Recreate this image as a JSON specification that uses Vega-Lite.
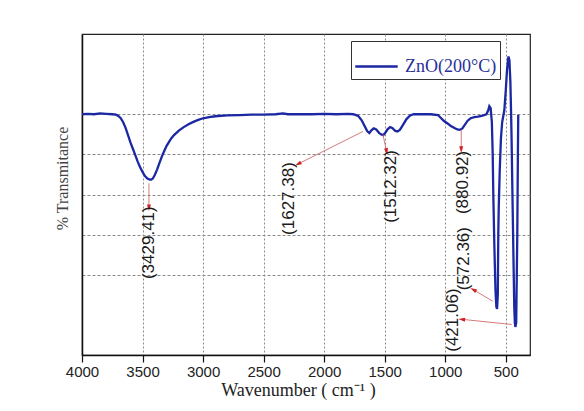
{
  "$schema": "https://vega.github.io/schema/vega-lite/v6.json",
  "width": 448,
  "height": 321,
  "autosize": "none",
  "padding": {"left": 82, "top": 34, "right": 54, "bottom": 56},
  "background": "white",
  "config": {
    "view": {"stroke": "#222", "strokeWidth": 1.2},
    "font": "Liberation Sans"
  },
  "datasets": {
    "spectrum": [
      {"wn": 4000, "t": 60.0}, {"wn": 3950, "t": 60.1}, {"wn": 3900, "t": 60.0}, {"wn": 3850, "t": 60.2},
      {"wn": 3800, "t": 60.1}, {"wn": 3750, "t": 60.0}, {"wn": 3720, "t": 59.9}, {"wn": 3700, "t": 59.6},
      {"wn": 3680, "t": 59.0}, {"wn": 3660, "t": 58.0}, {"wn": 3640, "t": 56.6}, {"wn": 3620, "t": 54.8},
      {"wn": 3600, "t": 53.0}, {"wn": 3580, "t": 51.4}, {"wn": 3560, "t": 49.8}, {"wn": 3540, "t": 48.2},
      {"wn": 3520, "t": 46.8}, {"wn": 3500, "t": 45.6}, {"wn": 3480, "t": 44.6}, {"wn": 3460, "t": 44.0},
      {"wn": 3440, "t": 43.7}, {"wn": 3429, "t": 43.7}, {"wn": 3415, "t": 44.0}, {"wn": 3400, "t": 44.8},
      {"wn": 3380, "t": 46.2}, {"wn": 3360, "t": 47.9}, {"wn": 3340, "t": 49.5}, {"wn": 3320, "t": 50.9},
      {"wn": 3300, "t": 52.2}, {"wn": 3280, "t": 53.2}, {"wn": 3260, "t": 54.1}, {"wn": 3240, "t": 54.8},
      {"wn": 3200, "t": 55.9}, {"wn": 3160, "t": 56.8}, {"wn": 3120, "t": 57.5}, {"wn": 3080, "t": 58.1},
      {"wn": 3040, "t": 58.6}, {"wn": 3000, "t": 59.0}, {"wn": 2950, "t": 59.3}, {"wn": 2900, "t": 59.5},
      {"wn": 2800, "t": 59.7}, {"wn": 2700, "t": 59.8}, {"wn": 2600, "t": 59.9}, {"wn": 2500, "t": 59.9},
      {"wn": 2400, "t": 60.0}, {"wn": 2340, "t": 60.2}, {"wn": 2300, "t": 60.0}, {"wn": 2200, "t": 60.0},
      {"wn": 2100, "t": 60.0}, {"wn": 2000, "t": 60.1}, {"wn": 1900, "t": 60.0}, {"wn": 1800, "t": 60.1},
      {"wn": 1760, "t": 60.0}, {"wn": 1720, "t": 59.6}, {"wn": 1690, "t": 58.5}, {"wn": 1665, "t": 57.0},
      {"wn": 1645, "t": 55.8}, {"wn": 1627, "t": 55.3}, {"wn": 1610, "t": 56.0}, {"wn": 1590, "t": 56.5},
      {"wn": 1570, "t": 56.2}, {"wn": 1545, "t": 55.3}, {"wn": 1525, "t": 54.9}, {"wn": 1512, "t": 54.8},
      {"wn": 1495, "t": 55.4}, {"wn": 1475, "t": 56.3}, {"wn": 1455, "t": 56.8}, {"wn": 1435, "t": 56.5},
      {"wn": 1415, "t": 55.9}, {"wn": 1395, "t": 55.7}, {"wn": 1375, "t": 56.1}, {"wn": 1350, "t": 57.3},
      {"wn": 1320, "t": 58.8}, {"wn": 1290, "t": 59.7}, {"wn": 1260, "t": 60.0}, {"wn": 1200, "t": 60.0},
      {"wn": 1120, "t": 60.0}, {"wn": 1060, "t": 59.8}, {"wn": 1040, "t": 59.2}, {"wn": 1010, "t": 58.3},
      {"wn": 980, "t": 57.7}, {"wn": 950, "t": 57.0}, {"wn": 920, "t": 56.5}, {"wn": 900, "t": 56.2},
      {"wn": 880, "t": 56.1}, {"wn": 860, "t": 56.4}, {"wn": 840, "t": 57.3}, {"wn": 815, "t": 58.4},
      {"wn": 790, "t": 59.0}, {"wn": 760, "t": 59.3}, {"wn": 730, "t": 59.4}, {"wn": 700, "t": 59.6},
      {"wn": 680, "t": 59.8}, {"wn": 660, "t": 60.0}, {"wn": 645, "t": 61.0}, {"wn": 636, "t": 62.0},
      {"wn": 625, "t": 61.5}, {"wn": 615, "t": 58.0}, {"wn": 608, "t": 50.0}, {"wn": 603, "t": 40.0},
      {"wn": 595, "t": 28.0}, {"wn": 585, "t": 16.0}, {"wn": 578, "t": 12.0}, {"wn": 572, "t": 11.5},
      {"wn": 566, "t": 15.0}, {"wn": 562, "t": 30.0}, {"wn": 558, "t": 37.0}, {"wn": 550, "t": 46.0},
      {"wn": 540, "t": 54.0}, {"wn": 530, "t": 58.0}, {"wn": 521, "t": 59.5}, {"wn": 512, "t": 61.0},
      {"wn": 500, "t": 66.0}, {"wn": 490, "t": 71.0}, {"wn": 478, "t": 74.4}, {"wn": 470, "t": 73.5},
      {"wn": 462, "t": 68.0}, {"wn": 456, "t": 60.0}, {"wn": 452, "t": 53.7}, {"wn": 445, "t": 40.0},
      {"wn": 437, "t": 25.0}, {"wn": 430, "t": 12.0}, {"wn": 425, "t": 8.0}, {"wn": 421, "t": 7.0},
      {"wn": 414, "t": 8.0}, {"wn": 405, "t": 30.0}, {"wn": 400, "t": 50.0}, {"wn": 397, "t": 59.9}
    ],
    "peaks": [
      {"id": "p3429", "label": "(3429.41)", "lx": 3447, "ly": 28.0, "ax": 3447, "ay": 42.8, "tx": 3447, "ty": 36.7},
      {"id": "p1627", "label": "(1627.38)", "lx": 2294, "ly": 39.0, "ax": 1680, "ay": 55.7, "tx": 2216, "ty": 47.6},
      {"id": "p1512", "label": "(1512.32)", "lx": 1450, "ly": 42.0, "ax": 1515, "ay": 55.0, "tx": 1484, "ty": 50.7},
      {"id": "p880", "label": "(880.92)", "lx": 850, "ly": 43.0, "ax": 868, "ay": 56.2, "tx": 868, "ty": 51.2},
      {"id": "p572", "label": "(572.36)", "lx": 848, "ly": 24.0, "ax": 608, "ay": 13.4, "tx": 769, "ty": 16.3},
      {"id": "p421", "label": "(421.06)", "lx": 940, "ly": 8.7, "ax": 451, "ay": 7.6, "tx": 864, "ty": 8.9}
    ]
  },
  "layer": [
    {
      "data": {"name": "spectrum"},
      "mark": {"type": "line", "strokeWidth": 2.3, "interpolate": "linear", "color": "#1b27a3"},
      "encoding": {
        "x": {
          "field": "wn", "type": "quantitative",
          "scale": {"domain": [300, 4000], "reverse": true, "nice": false, "zero": false},
          "axis": {
            "values": [500, 750, 1000, 1250, 1500, 1750, 2000, 2250, 2500, 2750, 3000, 3250, 3500, 3750, 4000],
            "format": "d",
            "labelExpr": "datum.value % 500 === 0 ? datum.label : ''",
            "grid": true, "gridDash": [2, 2], "gridColor": "#8a8a8a", "gridWidth": 1,
            "gridOpacity": {"condition": {"test": "datum.value % 500 === 0", "value": 1}, "value": 0},
            "tickSize": {"condition": {"test": "datum.value % 500 === 0", "value": 7}, "value": 4},
            "tickColor": "#111", "tickWidth": 1.2,
            "domainColor": "#111", "domainWidth": 1.5,
            "labelFont": "Liberation Sans", "labelFontSize": 15, "labelColor": "#222", "labelPadding": 2,
            "labelFlush": false,
            "title": "Wavenumber ( cm⁻¹ )", "titleFont": "Liberation Serif", "titleFontSize": 18,
            "titleFontWeight": "normal", "titleColor": "#222", "titlePadding": 2, "titleX": 216
          }
        },
        "y": {
          "field": "t", "type": "quantitative",
          "scale": {"domain": [0, 80], "nice": false, "zero": false},
          "axis": {
            "values": [20, 30, 40, 50, 60],
            "labels": false, "ticks": false,
            "grid": true, "gridDash": [3, 2], "gridColor": "#8a8a8a", "gridWidth": 1,
            "domainColor": "#111", "domainWidth": 1.5,
            "title": "% Transmitance", "titleFont": "Liberation Serif", "titleFontSize": 16,
            "titleFontWeight": "normal", "titleColor": "#444", "titlePadding": 12, "titleY": 144
          }
        },
        "color": {
          "datum": "ZnO(200°C)",
          "scale": {"range": ["#1b27a3"]},
          "legend": {
            "title": null, "orient": "none", "legendX": 269, "legendY": 7,
            "strokeColor": "#333", "fillColor": "white", "padding": 3,
            "symbolType": "stroke", "symbolSize": 1800, "symbolStrokeWidth": 2.5,
            "labelFont": "Liberation Serif", "labelFontSize": 18, "labelColor": "#2a2f9a", "labelOffset": 6
          }
        }
      }
    },
    {
      "data": {"name": "peaks"},
      "mark": {"type": "rule", "color": "#cf6b6b", "strokeWidth": 0.9},
      "encoding": {
        "x": {"field": "ax", "type": "quantitative"},
        "y": {"field": "ay", "type": "quantitative"},
        "x2": {"field": "tx"},
        "y2": {"field": "ty"}
      }
    },
    {
      "data": {"name": "peaks"},
      "transform": [{"filter": "datum.id === 'p3429' || datum.id === 'p880'"}],
      "mark": {"type": "point", "shape": "M0,-1L0.6,1L-0.6,1Z", "filled": true, "color": "#d02020", "opacity": 1, "size": 45, "angle": 180},
      "encoding": {"x": {"field": "tx", "type": "quantitative"}, "y": {"field": "ty", "type": "quantitative"}}
    },
    {
      "data": {"name": "peaks"},
      "transform": [{"filter": "datum.id === 'p1512'"}],
      "mark": {"type": "point", "shape": "M0,-1L0.6,1L-0.6,1Z", "filled": true, "color": "#d02020", "opacity": 1, "size": 45, "angle": 168},
      "encoding": {"x": {"field": "tx", "type": "quantitative"}, "y": {"field": "ty", "type": "quantitative"}}
    },
    {
      "data": {"name": "peaks"},
      "transform": [{"filter": "datum.id === 'p1627'"}],
      "mark": {"type": "point", "shape": "M0,-1L0.6,1L-0.6,1Z", "filled": true, "color": "#d02020", "opacity": 1, "size": 45, "angle": 243},
      "encoding": {"x": {"field": "tx", "type": "quantitative"}, "y": {"field": "ty", "type": "quantitative"}}
    },
    {
      "data": {"name": "peaks"},
      "transform": [{"filter": "datum.id === 'p572'"}],
      "mark": {"type": "point", "shape": "M0,-1L0.6,1L-0.6,1Z", "filled": true, "color": "#d02020", "opacity": 1, "size": 45, "angle": 298},
      "encoding": {"x": {"field": "tx", "type": "quantitative"}, "y": {"field": "ty", "type": "quantitative"}}
    },
    {
      "data": {"name": "peaks"},
      "transform": [{"filter": "datum.id === 'p421'"}],
      "mark": {"type": "point", "shape": "M0,-1L0.6,1L-0.6,1Z", "filled": true, "color": "#d02020", "opacity": 1, "size": 45, "angle": 276},
      "encoding": {"x": {"field": "tx", "type": "quantitative"}, "y": {"field": "ty", "type": "quantitative"}}
    },
    {
      "data": {"name": "peaks"},
      "mark": {"type": "text", "angle": 270, "align": "center", "baseline": "middle", "font": "Liberation Sans", "fontSize": 17, "color": "#1a1a1a"},
      "encoding": {
        "x": {"field": "lx", "type": "quantitative"},
        "y": {"field": "ly", "type": "quantitative"},
        "text": {"field": "label"}
      }
    }
  ]
}
